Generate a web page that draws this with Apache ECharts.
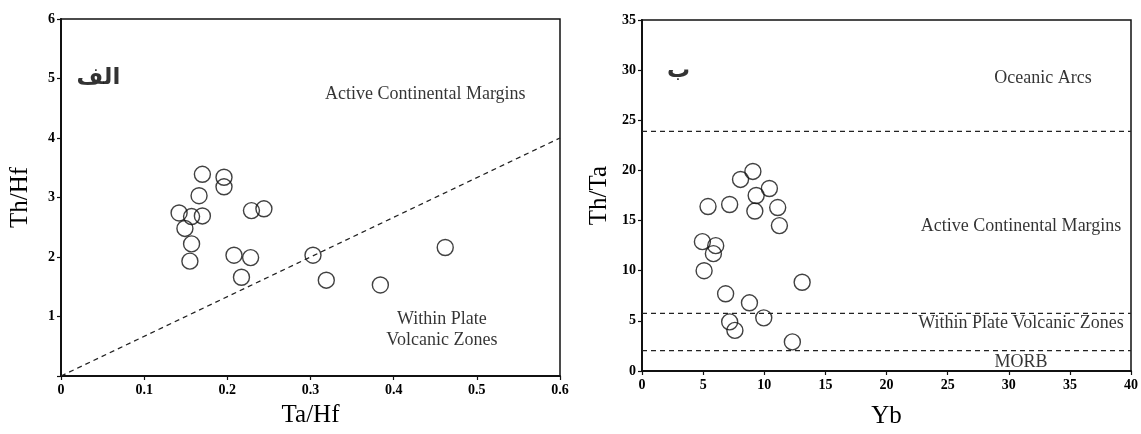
<!DOCTYPE html>
<html>
<head>
<meta charset="utf-8">
<script src="https://cdn.jsdelivr.net/npm/echarts@6/dist/echarts.min.js"></script>
<style>
html,body{margin:0;padding:0;background:#fff;}
#chart{width:1141px;height:434px;}
</style>
</head>
<body>
<div id="chart"></div>
<script>
// ---- Data: left panel (Ta/Hf vs Th/Hf) ----
var leftTaHf = [0.170,0.196,0.196,0.166,0.142,0.157,0.170,0.149,0.157,0.155,0.229,0.244,0.208,0.228,0.217,0.303,0.319,0.384,0.462];
var leftThHf = [3.39,3.34,3.18,3.03,2.74,2.68,2.69,2.48,2.22,1.93,2.78,2.81,2.03,1.99,1.66,2.03,1.61,1.53,2.16];
var leftBoundaryX = [0, 0.6];
var leftBoundaryY = [0, 4];
var leftXTicks = ['0','0.1','0.2','0.3','0.4','0.5','0.6'];
var leftYTicks = ['','1','2','3','4','5','6'];
var leftLabels = ['الف','Active Continental Margins','Within Plate\nVolcanic Zones'];
var leftLabelX = [0.045, 0.438, 0.458];
var leftLabelY = [5.0, 4.74, 0.78];

// ---- Data: right panel (Yb vs Th/Ta) ----
var rightYb = [9.07,8.06,10.42,9.34,5.40,7.17,9.23,11.10,11.24,4.94,6.03,5.84,5.08,13.1,6.84,8.79,9.96,7.17,7.60,12.3];
var rightThTa = [19.9,19.1,18.2,17.5,16.4,16.6,15.95,16.3,14.5,12.9,12.5,11.7,10.0,8.85,7.7,6.8,5.3,4.9,4.05,2.9];
var rightBoundaries = [23.9, 5.75, 2.03];
var rightBoundaryX = [0, 40];
var rightXTicks = ['0','5','10','15','20','25','30','35','40'];
var rightYTicks = ['0','5','10','15','20','25','30','35'];
var rightLabels = ['ب','Oceanic Arcs','Active Continental Margins','Within Plate Volcanic Zones','MORB'];
var rightLabelX = [3.0, 32.8, 31.0, 31.0, 31.0];
var rightLabelY = [29.9, 29.2, 14.4, 4.8, 0.9];

function zip(a, b) { return a.map(function (v, i) { return [v, b[i]]; }); }

var serif = '"Liberation Serif","Times New Roman",serif';
var tickLabelStyle = { fontFamily: serif, fontWeight: 'bold', fontSize: 14, color: '#000' };
var nameStyle = { fontFamily: serif, fontSize: 25, color: '#000' };

function makeAxis(gridIndex, min, max, interval, ticks, name, gap, isY) {
  return {
    type: 'value', gridIndex: gridIndex, min: min, max: max, interval: interval,
    name: name, nameLocation: 'middle', nameGap: gap, nameTextStyle: nameStyle,
    splitLine: { show: false },
    axisLine: { show: true, onZero: false, lineStyle: { color: '#111', width: 2 } },
    axisTick: { show: true, inside: false, length: 4, lineStyle: { color: '#111', width: 1.2 } },
    axisLabel: Object.assign({ margin: isY ? 6 : 7, formatter: function (v, i) { return ticks[i]; } }, tickLabelStyle)
  };
}

function annotation(xi, yi, names, xs, ys) {
  return {
    type: 'scatter', xAxisIndex: xi, yAxisIndex: yi, silent: true, symbolSize: 0,
    itemStyle: { color: '#fff' }, z: 5,
    label: {
      show: true, position: 'inside', formatter: '{b}', color: '#000',
      textBorderWidth: 0, textShadowBlur: 0,
      fontFamily: serif, fontSize: 18, lineHeight: 21, align: 'center'
    },
    data: names.map(function (n, i) {
      var d = { name: n, value: [xs[i], ys[i]] };
      if (/[\u0600-\u06FF]/.test(n)) {
        d.label = { fontFamily: '"DejaVu Sans",sans-serif', fontWeight: 'bold', fontSize: 23, color: '#000' };
      }
      return d;
    })
  };
}

var pointStyle = { color: 'rgba(0,0,0,0)', borderColor: '#111', borderWidth: 1.4 };
var dashStyle = { color: '#222', width: 1.3, type: [5, 4] };

var option = {
  backgroundColor: '#fff',
  animation: false,
  grid: [
    { left: 61, right: 581, top: 19, bottom: 58, show: true, borderColor: '#111', borderWidth: 1.5, backgroundColor: 'transparent' },
    { left: 642, right: 8, top: 20, bottom: 57, show: true, borderColor: '#111', borderWidth: 1.5, backgroundColor: 'transparent' }
  ],
  xAxis: [
    makeAxis(0, 0, 0.6, 0.1, leftXTicks, 'Ta/Hf', 27, false),
    makeAxis(1, 0, 40, 5, rightXTicks, 'Yb', 33, false)
  ],
  yAxis: [
    makeAxis(0, 0, 6, 1, leftYTicks, 'Th/Hf', 28, true),
    makeAxis(1, 0, 35, 5, rightYTicks, 'Th/Ta', 30, true)
  ],
  series: [
    { type: 'line', xAxisIndex: 0, yAxisIndex: 0, silent: true, symbol: 'none', lineStyle: dashStyle,
      data: zip(leftBoundaryX, leftBoundaryY) },
    { type: 'scatter', xAxisIndex: 0, yAxisIndex: 0, symbol: 'circle', symbolSize: 16, itemStyle: pointStyle,
      data: zip(leftTaHf, leftThHf) },
    annotation(0, 0, leftLabels, leftLabelX, leftLabelY)
  ].concat(rightBoundaries.map(function (y) {
    return { type: 'line', xAxisIndex: 1, yAxisIndex: 1, silent: true, symbol: 'none', lineStyle: dashStyle,
      data: rightBoundaryX.map(function (x) { return [x, y]; }) };
  })).concat([
    { type: 'scatter', xAxisIndex: 1, yAxisIndex: 1, symbol: 'circle', symbolSize: 16, itemStyle: pointStyle,
      data: zip(rightYb, rightThTa) },
    annotation(1, 1, rightLabels, rightLabelX, rightLabelY)
  ])
};

var chart = echarts.init(document.getElementById('chart'), null, { renderer: 'canvas' });
chart.setOption(option);
</script>
</body>
</html>
